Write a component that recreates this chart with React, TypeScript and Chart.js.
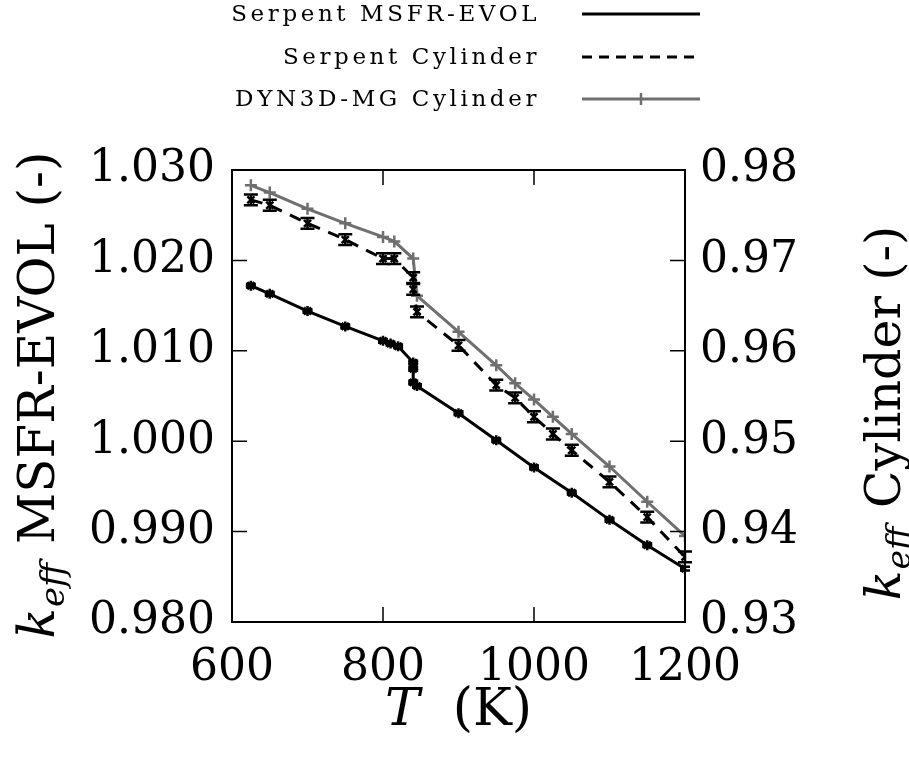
import React, { useEffect, useRef } from "react";
import { Chart, registerables } from "chart.js";

Chart.register(...registerables);

// ---- data ----
const msfrT = [625, 650, 700, 750, 800, 810, 820, 840, 840, 840, 845, 900, 950, 1000, 1050, 1100, 1150, 1200];
const msfrK = [1.0172, 1.0163, 1.0144, 1.0127, 1.0111, 1.0108, 1.0105, 1.0087, 1.008, 1.0065, 1.0061, 1.0031, 1.0001, 0.9971, 0.9943, 0.9913, 0.9885, 0.9859];
const msfrErr = [0.0002, 0.0002, 0.0002, 0.0002, 0.0002, 0.0002, 0.0002, 0.0002, 0.0002, 0.0002, 0.0002, 0.0002, 0.0002, 0.0002, 0.0002, 0.0002, 0.0002, 0.0002];

const cylT = [625, 650, 700, 750, 800, 815, 840, 840, 845, 900, 950, 975, 1000, 1025, 1050, 1100, 1150, 1200];
const cylK = [0.9767, 0.9761, 0.9741, 0.9723, 0.9702, 0.9702, 0.9681, 0.9668, 0.9643, 0.9606, 0.9562, 0.9548, 0.9527, 0.9508, 0.949, 0.9455, 0.9416, 0.9372];
const cylErr = [0.0006, 0.0006, 0.0006, 0.0006, 0.0006, 0.0006, 0.0006, 0.0006, 0.0006, 0.0006, 0.0006, 0.0006, 0.0006, 0.0006, 0.0006, 0.0006, 0.0006, 0.0006];

const dynT = [625, 650, 700, 750, 800, 815, 840, 845, 900, 950, 975, 1000, 1025, 1050, 1100, 1150, 1200];
const dynK = [0.9783, 0.9775, 0.9757, 0.9741, 0.9726, 0.9721, 0.9702, 0.9661, 0.9621, 0.9584, 0.9564, 0.9546, 0.9527, 0.9508, 0.9472, 0.9433, 0.9395];

const xTicks = [600, 800, 1000, 1200];
const yLeftTicks = ["0.980", "0.990", "1.000", "1.010", "1.020", "1.030"];
const yRightTicks = ["0.93", "0.94", "0.95", "0.96", "0.97", "0.98"];

const seriesNames = ["Serpent MSFR-EVOL", "Serpent Cylinder", "DYN3D-MG Cylinder"];

const GRAY = "#6f6f6f";
const FONT = "'DejaVu Serif', serif";
const FS = 44;
const TFS = 50;

const errs: (number[] | null)[] = [msfrErr, cylErr, null];

const customPlugin = {
  id: "gnuplotStyle",
  afterDatasetsDraw(chart: any) {
    const ctx = chart.ctx as CanvasRenderingContext2D;
    const xs = chart.scales.x;
    chart.data.datasets.forEach((ds: any, i: number) => {
      const e = errs[i];
      if (!e) return;
      const ys = chart.scales[ds.yAxisID];
      ctx.save();
      ctx.strokeStyle = "#000";
      ctx.lineWidth = 2.5;
      ds.data.forEach((p: any, j: number) => {
        const px = xs.getPixelForValue(p.x);
        const y1 = ys.getPixelForValue(p.y - e[j]);
        const y2 = ys.getPixelForValue(p.y + e[j]);
        const cap = i === 0 ? 5 : 7;
        ctx.beginPath();
        ctx.moveTo(px, y1);
        ctx.lineTo(px, y2);
        ctx.moveTo(px - cap, y1);
        ctx.lineTo(px + cap, y1);
        ctx.moveTo(px - cap, y2);
        ctx.lineTo(px + cap, y2);
        ctx.stroke();
      });
      ctx.restore();
    });
  },
  afterDraw(chart: any) {
    const ctx = chart.ctx as CanvasRenderingContext2D;
    const ca = chart.chartArea;
    const xs = chart.scales.x;
    const yl = chart.scales.y;
    const yr = chart.scales.y2;
    ctx.save();
    ctx.strokeStyle = "#000";
    ctx.lineWidth = 2;
    ctx.strokeRect(ca.left, ca.top, ca.right - ca.left, ca.bottom - ca.top);
    ctx.lineWidth = 1.5;
    const tl = 15;
    ctx.beginPath();
    xTicks.forEach((v) => {
      const px = xs.getPixelForValue(v);
      ctx.moveTo(px, ca.bottom);
      ctx.lineTo(px, ca.bottom - tl);
      ctx.moveTo(px, ca.top);
      ctx.lineTo(px, ca.top + tl);
    });
    yLeftTicks.forEach((t) => {
      const py = yl.getPixelForValue(parseFloat(t));
      ctx.moveTo(ca.left, py);
      ctx.lineTo(ca.left + tl, py);
    });
    yRightTicks.forEach((t) => {
      const py = yr.getPixelForValue(parseFloat(t));
      ctx.moveTo(ca.right, py);
      ctx.lineTo(ca.right - tl, py);
    });
    ctx.stroke();

    ctx.fillStyle = "#000";
    ctx.textBaseline = "alphabetic";
    {
      const it = `italic ${TFS + 2}px ${FONT}`;
      const up = `${TFS + 2}px ${FONT}`;
      ctx.font = it;
      const w1 = ctx.measureText("T").width;
      ctx.font = up;
      const w2 = ctx.measureText("  (K)").width;
      const cx = (ca.left + ca.right) / 2;
      const x0 = cx - (w1 + w2) / 2;
      const by = 725;
      ctx.font = it;
      ctx.textAlign = "left";
      ctx.fillText("T", x0, by);
      ctx.font = up;
      ctx.fillText("  (K)", x0 + w1, by);
    }
    const drawKTitle = (rest: string, cx: number, cy: number, fs: number) => {
      const it = `italic ${fs}px ${FONT}`;
      const sub = `italic ${Math.round(fs * 0.68)}px ${FONT}`;
      const up = `${fs}px ${FONT}`;
      ctx.font = it;
      const wk = ctx.measureText("k").width;
      ctx.font = sub;
      const ws = ctx.measureText("eff").width + 4;
      ctx.font = up;
      const wr = ctx.measureText(rest).width;
      const total = wk + ws + wr;
      ctx.save();
      ctx.translate(cx, cy);
      ctx.rotate(-Math.PI / 2);
      ctx.textAlign = "left";
      let x = -total / 2;
      ctx.font = it;
      ctx.fillText("k", x, 0);
      x += wk;
      ctx.font = sub;
      ctx.fillText("eff", x + 1, 10);
      x += ws;
      ctx.font = up;
      ctx.fillText(rest, x, 0);
      ctx.restore();
    };
    drawKTitle(" MSFR-EVOL (-)", 54, 395, TFS);
    drawKTitle(" Cylinder (-)", 900, 413, TFS - 1);

    const lx1 = 582;
    const lx2 = 700;
    const rows = [14, 57, 99];
    ctx.font = `23px ${FONT}`;
    (ctx as any).letterSpacing = "3.6px";
    ctx.textAlign = "right";
    ctx.textBaseline = "middle";
    seriesNames.forEach((n, i) => {
      ctx.fillStyle = "#000";
      ctx.fillText(n, 540, rows[i] + 1);
    });
    (ctx as any).letterSpacing = "0px";
    ctx.lineWidth = 3;
    ctx.strokeStyle = "#000";
    ctx.setLineDash([]);
    ctx.beginPath();
    ctx.moveTo(lx1, rows[0]);
    ctx.lineTo(lx2, rows[0]);
    ctx.stroke();
    ctx.setLineDash([10, 7]);
    ctx.beginPath();
    ctx.moveTo(lx1, rows[1]);
    ctx.lineTo(lx2, rows[1]);
    ctx.stroke();
    ctx.setLineDash([]);
    ctx.strokeStyle = GRAY;
    ctx.beginPath();
    ctx.moveTo(lx1, rows[2]);
    ctx.lineTo(lx2, rows[2]);
    ctx.stroke();
    ctx.lineWidth = 2.5;
    ctx.beginPath();
    const mx = (lx1 + lx2) / 2;
    ctx.moveTo(mx, rows[2] - 6);
    ctx.lineTo(mx, rows[2] + 6);
    ctx.stroke();
    ctx.restore();
  },
};

export default function App() {
  const ref = useRef<HTMLCanvasElement | null>(null);
  useEffect(() => {
    if (!ref.current) return;
    const chart = new Chart(ref.current, {
      type: "line",
      data: {
        datasets: [
          {
            label: seriesNames[0],
            data: msfrT.map((t, i) => ({ x: t, y: msfrK[i] })),
            yAxisID: "y",
            borderColor: "#000",
            backgroundColor: "#000",
            borderWidth: 3,
            pointStyle: "star",
            pointRadius: 5,
            pointBorderWidth: 2.5,
            tension: 0,
          },
          {
            label: seriesNames[1],
            data: cylT.map((t, i) => ({ x: t, y: cylK[i] })),
            yAxisID: "y2",
            borderColor: "#000",
            backgroundColor: "#000",
            borderWidth: 3,
            borderDash: [12, 9],
            pointStyle: "crossRot",
            pointRadius: 5,
            pointBorderWidth: 2.5,
            tension: 0,
          },
          {
            label: seriesNames[2],
            data: dynT.map((t, i) => ({ x: t, y: dynK[i] })),
            yAxisID: "y2",
            borderColor: GRAY,
            backgroundColor: GRAY,
            borderWidth: 3,
            pointStyle: "cross",
            pointRadius: 6,
            pointBorderWidth: 2.5,
            tension: 0,
          },
        ],
      },
      options: {
        animation: false,
        responsive: true,
        maintainAspectRatio: false,
        layout: { padding: { top: 170, left: 0, right: 0, bottom: 0 } },
        plugins: { legend: { display: false }, tooltip: { enabled: false } },
        scales: {
          x: {
            type: "linear",
            min: 600,
            max: 1200,
            afterBuildTicks: (s: any) => {
              s.ticks = xTicks.map((v) => ({ value: v }));
            },
            afterFit: (s: any) => {
              s.height = 136;
            },
            grid: { display: false, drawTicks: false },
            border: { display: false },
            ticks: {
              color: "#000",
              padding: 20,
              font: { family: FONT, size: FS },
              callback: (v: any) => String(v),
              maxRotation: 0,
              autoSkip: false,
            },
          },
          y: {
            type: "linear",
            position: "left",
            min: 0.98,
            max: 1.03,
            afterBuildTicks: (s: any) => {
              s.ticks = yLeftTicks.map((t) => ({ value: parseFloat(t) }));
            },
            afterFit: (s: any) => {
              s.width = 232;
            },
            grid: { display: false, drawTicks: false },
            border: { display: false },
            ticks: {
              color: "#000",
              padding: 17,
              font: { family: FONT, size: FS },
              callback: (v: any) => {
                const idx = yLeftTicks.findIndex((t) => Math.abs(parseFloat(t) - v) < 1e-6);
                return idx >= 0 ? yLeftTicks[idx] : "";
              },
              autoSkip: false,
            },
          },
          y2: {
            type: "linear",
            position: "right",
            min: 0.93,
            max: 0.98,
            afterBuildTicks: (s: any) => {
              s.ticks = yRightTicks.map((t) => ({ value: parseFloat(t) }));
            },
            afterFit: (s: any) => {
              s.width = 224;
            },
            grid: { display: false, drawTicks: false },
            border: { display: false },
            ticks: {
              color: "#000",
              padding: 15,
              font: { family: FONT, size: FS },
              callback: (v: any) => {
                const idx = yRightTicks.findIndex((t) => Math.abs(parseFloat(t) - v) < 1e-6);
                return idx >= 0 ? yRightTicks[idx] : "";
              },
              autoSkip: false,
            },
          },
        },
      },
      plugins: [customPlugin],
    });
    return () => chart.destroy();
  }, []);
  return (
    <div style={{ position: "absolute", left: 0, top: 0, width: 909, height: 758, background: "#fff" }}>
      <canvas ref={ref} />
    </div>
  );
}
